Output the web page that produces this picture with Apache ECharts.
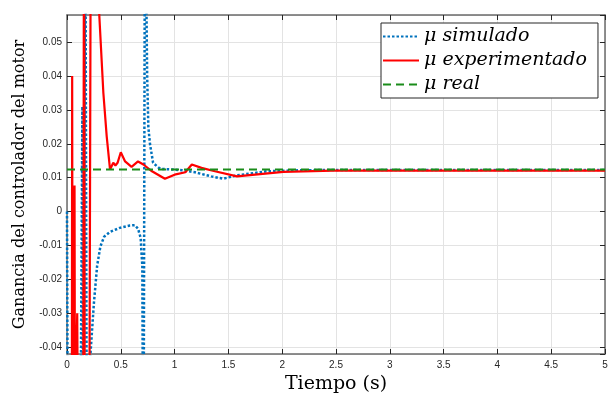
<!DOCTYPE html>
<html>
<head>
<meta charset="utf-8">
<script src="https://cdn.jsdelivr.net/npm/echarts@6/dist/echarts.min.js"></script>
<style>
  html, body { margin: 0; padding: 0; background: #fff; }
  #chartBox { width: 608px; height: 393px; }
</style>
</head>
<body>
<div id="chartBox"></div>
<script>
// mu simulado (values far outside the y range are clipped by the grid)
const tSim = [0, 0.01, 0.12, 0.143, 0.150, 0.170, 0.180, 0.186, 0.205, 0.218, 0.25, 0.28, 0.31, 0.345,
  0.40, 0.49, 0.585, 0.63, 0.66, 0.685, 0.69, 0.70, 0.71, 0.725, 0.735, 0.745, 0.756, 0.771, 0.80,
  0.85, 0.88, 1.0, 1.07, 1.19, 1.34, 1.45, 1.58, 1.86, 2.17, 2.5, 3, 4, 5];
const muSim = [0, -0.10, -0.10, 0.031, -0.10, 0.10, 0.10, -0.10, -0.10, -0.042, -0.027, -0.016, -0.0103, -0.0074,
  -0.006, -0.0048, -0.0041, -0.0040, -0.0050, -0.0078, -0.011, -0.016, -0.10, 0.10, 0.07, 0.04, 0.025, 0.020, 0.0144,
  0.013, 0.0126, 0.0124, 0.0122, 0.0116, 0.0104, 0.0097, 0.0107, 0.0119, 0.0122, 0.0123, 0.0123, 0.0123, 0.0123];

// mu experimentado
const tExp = [0, 0.045, 0.048, 0.052, 0.070, 0.073, 0.080, 0.086, 0.095, 0.100, 0.150, 0.158, 0.166, 0.205,
  0.222, 0.26, 0.29, 0.30, 0.338, 0.369, 0.40, 0.43, 0.45, 0.47, 0.50, 0.54, 0.60, 0.66, 0.71, 0.79,
  0.91, 1.0, 1.10, 1.16, 1.25, 1.375, 1.58, 2.01, 2.47, 3, 4, 5];
const muExp = [-0.08, -0.08, 0.040, -0.06, 0.0077, -0.045, -0.037, -0.045, -0.030, -0.06, -0.08, 0.10, -0.10, -0.10,
  0.10, 0.12, 0.07, 0.058, 0.035, 0.0222, 0.0124, 0.0144, 0.0136, 0.0144, 0.0175, 0.0148, 0.0132, 0.0148, 0.0139, 0.0119,
  0.0097, 0.0109, 0.0116, 0.0139, 0.0129, 0.0119, 0.0104, 0.0117, 0.0121, 0.0121, 0.0121, 0.0121];

// mu real
const tReal = [0, 5];
const muReal = [0.0124, 0.0124];

const seriesNames = ['\u03bc simulado', '\u03bc experimentado', '\u03bc real'];
const xRange = [0, 5];
const yRange = [-0.042, 0.058];

const pairs = (xs, ys) => xs.map((x, i) => [x, ys[i]]);

const frameColor = '#6b6b6b';
const tickText = { color: '#262626', fontSize: 10, fontFamily: 'Liberation Sans' };
const serif = 'DejaVu Serif';

const chartDom = document.getElementById('chartBox');
const myChart = echarts.init(chartDom, null, { renderer: 'canvas' });

const option = {
  animation: false,
  backgroundColor: '#fff',
  grid: {
    left: 67, right: 3, top: 15, bottom: 39,
    containLabel: false,
    outerBoundsMode: 'none'
  },
  legend: {
    orient: 'vertical',
    left: 381,
    top: 23,
    backgroundColor: '#fff',
    borderColor: '#262626',
    borderWidth: 1,
    borderRadius: 0,
    padding: [4, 11, 4, 1],
    itemWidth: 36,
    itemHeight: 14,
    itemGap: 5,
    itemStyle: { opacity: 0 },
    data: seriesNames,
    textStyle: {
      fontFamily: serif,
      fontStyle: 'italic',
      fontSize: 19,
      color: '#000'
    }
  },
  xAxis: [
    {
      type: 'value',
      min: xRange[0], max: xRange[1], interval: 0.5,
      name: 'Tiempo (s)',
      nameLocation: 'middle',
      nameGap: 13,
      nameTextStyle: { fontFamily: serif, fontSize: 19, color: '#000' },
      axisLine: { onZero: false, lineStyle: { color: frameColor, width: 1.5 } },
      axisTick: { inside: true, length: 5, lineStyle: { color: '#262626' } },
      axisLabel: Object.assign({ margin: 6 }, tickText),
      splitLine: { show: true, lineStyle: { color: '#e3e3e3', width: 1 } }
    },
    {
      type: 'value', position: 'top',
      min: xRange[0], max: xRange[1], interval: 0.5,
      axisLine: { onZero: false, lineStyle: { color: frameColor, width: 1.5 } },
      axisTick: { inside: true, length: 5, lineStyle: { color: '#262626' } },
      axisLabel: { show: false },
      splitLine: { show: false }
    }
  ],
  yAxis: [
    {
      type: 'value',
      min: yRange[0], max: yRange[1], splitNumber: 10,
      name: 'Ganancia del controlador del motor',
      nameLocation: 'middle',
      nameGap: 38,
      nameTextStyle: { fontFamily: serif, fontSize: 16, color: '#000' },
      axisLine: { onZero: false, lineStyle: { color: frameColor, width: 1.5 } },
      axisTick: { inside: true, length: 5, lineStyle: { color: '#262626' } },
      axisLabel: Object.assign({ margin: 5, showMinLabel: false, showMaxLabel: false }, tickText),
      splitLine: { show: true, lineStyle: { color: '#e3e3e3', width: 1 } }
    },
    {
      type: 'value', position: 'right',
      min: yRange[0], max: yRange[1], splitNumber: 10,
      axisLine: { onZero: false, lineStyle: { color: frameColor, width: 1.5 } },
      axisTick: { inside: true, length: 5, lineStyle: { color: '#262626' } },
      axisLabel: { show: false },
      splitLine: { show: false }
    }
  ],
  series: [
    {
      name: seriesNames[0],
      type: 'line',
      data: pairs(tSim, muSim),
      symbol: 'none',
      clip: true,
      lineStyle: { color: '#0072BD', width: 2.5, type: [2.5, 2] },
      itemStyle: { color: '#0072BD' }
    },
    {
      name: seriesNames[1],
      type: 'line',
      data: pairs(tExp, muExp),
      symbol: 'none',
      clip: true,
      lineStyle: { color: '#ff0000', width: 2.2 },
      itemStyle: { color: '#ff0000' }
    },
    {
      name: seriesNames[2],
      type: 'line',
      data: pairs(tReal, muReal),
      symbol: 'none',
      clip: true,
      lineStyle: { color: '#1a8c1a', width: 2, type: [8, 5] },
      itemStyle: { color: '#1a8c1a' }
    }
  ]
};

option && myChart.setOption(option);
</script>
</body>
</html>
